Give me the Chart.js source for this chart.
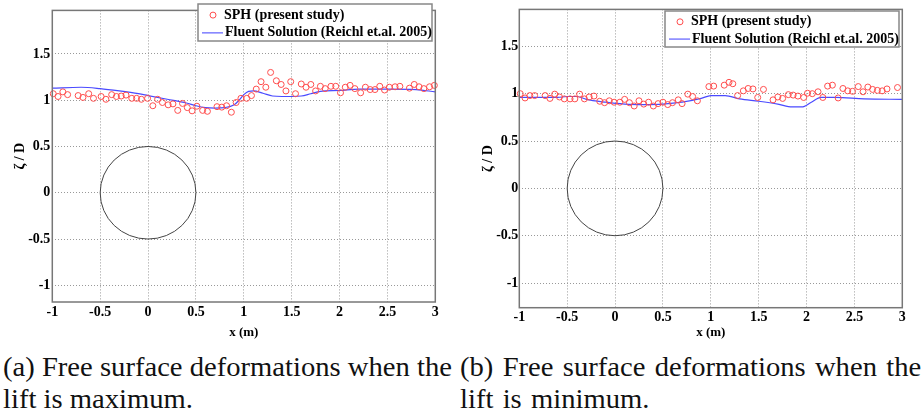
<!DOCTYPE html>
<html>
<head>
<meta charset="utf-8">
<script src="https://cdn.jsdelivr.net/npm/chart.js@4.4.1/dist/chart.umd.min.js"></script>
<style>
body { margin: 0; background: #fff; width: 922px; height: 419px; position: relative; overflow: hidden; }
canvas { position: absolute; top: 0; }
#chartA { left: 0; }
#chartB { left: 460px; }
.cap { position: absolute; top: 351px; font-family: "Liberation Serif", "Times New Roman", serif; font-size: 27px; line-height: 32px; color: #111; white-space: nowrap; transform-origin: 0 0; transform: scaleX(1.06); }
</style>
</head>
<body>
<canvas id="chartA" width="460" height="340"></canvas>
<canvas id="chartB" width="462" height="340"></canvas>
<div class="cap" style="left:3px;">(a) Free surface deformations when the<br>lift is maximum.</div>
<div class="cap" style="left:460px; word-spacing: 2px;">(b) Free surface deformations when the<br>lift is minimum.</div>
<script>
var xTicks = [-1, -0.5, 0, 0.5, 1, 1.5, 2, 2.5, 3];
var yTicks = [-1, -0.5, 0, 0.5, 1, 1.5];
var sphLabel = "SPH (present study)";
var fluentLabel = "Fluent Solution (Reichl et.al. 2005)";

// (a) lift maximum
var sphXA = [-0.99,-0.94,-0.89,-0.84,-0.73,-0.68,-0.62,-0.57,-0.49,-0.44,-0.38,-0.33,-0.28,-0.23,-0.17,-0.12,-0.07,-0.005,0.05,0.10,0.15,0.21,0.26,0.31,0.36,0.41,0.46,0.51,0.57,0.62,0.72,0.77,0.82,0.87,0.92,0.97,1.03,1.08,1.13,1.18,1.23,1.28,1.34,1.39,1.44,1.49,1.54,1.60,1.65,1.70,1.75,1.80,1.85,1.91,1.96,2.01,2.06,2.11,2.16,2.22,2.27,2.32,2.37,2.42,2.47,2.52,2.58,2.63,2.73,2.78,2.83,2.88,2.94,2.99];
var sphYA = [1.07,1.04,1.09,1.06,1.05,1.03,1.07,1.02,1.04,1.01,1.06,1.04,1.045,1.055,1.02,1.02,1.01,1.02,0.94,1.01,0.975,0.95,0.96,0.89,0.965,0.92,0.885,0.935,0.89,0.88,0.93,0.925,0.94,0.87,0.975,1.02,1.02,1.05,1.12,1.20,1.14,1.30,1.21,1.17,1.10,1.20,1.07,1.175,1.14,1.17,1.10,1.15,1.125,1.15,1.15,1.08,1.14,1.16,1.125,1.08,1.14,1.115,1.115,1.15,1.11,1.14,1.145,1.15,1.13,1.17,1.145,1.125,1.145,1.16];
var fluentXA = [-1,-0.7,-0.5,-0.3,-0.1,0,0.2,0.4,0.5,0.6,0.7,0.8,0.9,0.95,1.0,1.05,1.1,1.2,1.3,1.4,1.5,1.6,1.7,1.8,2.0,2.2,2.5,2.8,3.0];
var fluentYA = [1.13,1.14,1.125,1.10,1.07,1.05,1.01,0.97,0.94,0.92,0.915,0.92,0.95,1.0,1.06,1.095,1.10,1.075,1.045,1.04,1.04,1.045,1.07,1.095,1.105,1.12,1.12,1.115,1.09];

// (b) lift minimum
var sphXB = [-0.99,-0.94,-0.89,-0.84,-0.73,-0.68,-0.63,-0.58,-0.53,-0.47,-0.42,-0.37,-0.32,-0.27,-0.22,-0.16,-0.11,-0.06,-0.01,0.05,0.10,0.15,0.20,0.25,0.30,0.35,0.40,0.45,0.50,0.55,0.60,0.66,0.70,0.76,0.81,0.86,0.98,1.03,1.14,1.19,1.23,1.28,1.34,1.39,1.44,1.49,1.55,1.65,1.70,1.75,1.81,1.86,1.91,1.97,2.01,2.06,2.12,2.17,2.22,2.27,2.33,2.38,2.43,2.48,2.54,2.59,2.64,2.69,2.74,2.79,2.84,2.95];
var sphYB = [1.00,0.955,0.98,0.98,0.98,0.95,0.995,0.965,0.945,0.945,0.945,0.995,0.945,0.965,0.975,0.92,0.905,0.925,0.91,0.91,0.94,0.905,0.87,0.925,0.89,0.91,0.87,0.895,0.91,0.885,0.905,0.935,0.895,0.995,0.97,0.925,1.075,1.08,1.09,1.12,1.105,0.98,1.03,1.055,1.05,0.96,1.045,0.935,0.965,0.95,0.99,0.985,0.975,0.96,1.005,1.00,1.02,0.96,1.08,1.09,0.955,1.055,1.03,1.025,1.075,1.02,1.07,1.045,1.035,1.03,1.05,1.065];
var fluentXB = [-1,-0.6,-0.5,-0.4,-0.3,-0.1,0.1,0.3,0.5,0.7,0.9,1.0,1.15,1.3,1.5,1.7,1.85,1.95,2.05,2.15,2.3,2.6,3.0];
var fluentYB = [0.96,0.96,0.97,0.97,0.94,0.91,0.89,0.885,0.89,0.91,0.95,0.98,0.98,0.945,0.92,0.89,0.86,0.86,0.91,0.96,0.96,0.945,0.94];

// cylinder outline
var cylX = 0, cylY = 0, cylR = 0.5;

var serif = '"Liberation Serif", "Times New Roman", serif';

function toPoints(xs, ys) {
    var pts = [];
    for (var i = 0; i < xs.length; i++) pts.push({x: xs[i], y: ys[i]});
    return pts;
}

var framePlugin = {
    id: 'frame',
    beforeDatasetsDraw: function (chart) {
        var ctx = chart.ctx, xs = chart.scales.x, ys = chart.scales.y;
        var cx = xs.getPixelForValue(cylX), cy = ys.getPixelForValue(cylY);
        var rx = xs.getPixelForValue(cylX + cylR) - cx;
        var ry = cy - ys.getPixelForValue(cylY + cylR);
        ctx.save();
        ctx.strokeStyle = '#444';
        ctx.lineWidth = 1;
        ctx.beginPath();
        ctx.ellipse(cx, cy, rx, ry, 0, 0, Math.PI * 2);
        ctx.stroke();
        ctx.restore();
    },
    afterDraw: function (chart, args, opts) {
        var ctx = chart.ctx, a = chart.chartArea;
        ctx.save();
        ctx.strokeStyle = '#777';
        ctx.lineWidth = 1.5;
        ctx.strokeRect(a.left, a.top, a.right - a.left, a.bottom - a.top);

        // y title
        ctx.save();
        ctx.translate(opts.yTitleX, (a.top + a.bottom) / 2);
        ctx.rotate(-Math.PI / 2);
        ctx.fillStyle = '#000';
        ctx.font = 'bold 14px ' + serif;
        ctx.textAlign = 'center';
        ctx.textBaseline = 'middle';
        ctx.fillText('ζ / D', 0, 0);
        ctx.restore();

        // legend box
        var b = opts.box;
        ctx.fillStyle = '#fff';
        ctx.fillRect(b.left, b.top, b.width, b.height);
        ctx.strokeStyle = '#888';
        ctx.lineWidth = 1.5;
        ctx.strokeRect(b.left, b.top, b.width, b.height);

        var y1 = b.top + b.height * 0.3, y2 = b.top + b.height * 0.78;
        ctx.strokeStyle = '#ff4d4d';
        ctx.lineWidth = 1;
        ctx.beginPath();
        ctx.arc(b.left + 15, y1, 3, 0, Math.PI * 2);
        ctx.stroke();
        ctx.strokeStyle = '#6a6aff';
        ctx.lineWidth = 1.3;
        ctx.beginPath();
        ctx.moveTo(b.left + 4, y2);
        ctx.lineTo(b.left + 25, y2);
        ctx.stroke();

        ctx.fillStyle = '#000';
        ctx.font = 'bold 14px ' + serif;
        ctx.textBaseline = 'middle';
        ctx.textAlign = 'left';
        ctx.fillText(chart.data.datasets[0].label, b.left + 26, y1);
        ctx.fillText(chart.data.datasets[1].label, b.left + 27, y2);
        ctx.restore();
    }
};

function makeChart(id, sx, sy, fx, fy, yMin, yMax, lay) {
    return new Chart(document.getElementById(id), {
        type: 'scatter',
        data: {
            datasets: [{
                label: sphLabel,
                data: toPoints(sx, sy),
                pointRadius: 3,
                pointBorderWidth: 1,
                borderColor: '#ff4d4d',
                backgroundColor: 'rgba(0,0,0,0)',
                pointHoverRadius: 3,
                clip: false
            }, {
                label: fluentLabel,
                data: toPoints(fx, fy),
                showLine: true,
                pointRadius: 0,
                borderColor: '#4a4aff',
                borderWidth: 1.2,
                cubicInterpolationMode: 'monotone',
                fill: false
            }]
        },
        options: {
            responsive: false,
            animation: false,
            devicePixelRatio: 1,
            layout: { padding: { left: 0, right: lay.padRight, top: lay.padTop, bottom: 0 } },
            plugins: {
                legend: { display: false },
                tooltip: { enabled: false },
                frame: { box: lay.legend, yTitleX: lay.yTitleX }
            },
            scales: {
                x: {
                    type: 'linear', min: -1, max: 3,
                    afterBuildTicks: function (s) { s.ticks = xTicks.map(function (v) { return {value: v}; }); },
                    afterFit: function (s) { s.height = lay.xHeight; },
                    grid: { color: '#999', lineWidth: 1, drawTicks: false },
                    border: { display: false, dash: [1, 2] },
                    ticks: {
                        color: '#000', padding: lay.xTickPad, maxRotation: 0, autoSkip: false,
                        font: { family: serif, size: 14, weight: 'bold' },
                        callback: function (v) { return String(v); }
                    },
                    title: { display: true, text: 'x (m)', color: '#000', padding: { top: 0, bottom: 0 },
                        font: { family: serif, size: 13, weight: 'bold' } }
                },
                y: {
                    type: 'linear', min: yMin, max: yMax,
                    afterBuildTicks: function (s) { s.ticks = yTicks.map(function (v) { return {value: v}; }); },
                    afterFit: function (s) { s.width = lay.yWidth; },
                    grid: { color: '#999', lineWidth: 1, drawTicks: false },
                    border: { display: false, dash: [1, 2] },
                    ticks: {
                        color: '#000', padding: lay.yTickPad,
                        font: { family: serif, size: 14, weight: 'bold' },
                        callback: function (v) { return String(v); }
                    },
                    title: { display: false }
                }
            }
        },
        plugins: [framePlugin]
    });
}

makeChart('chartA', sphXA, sphYA, fluentXA, fluentYA, -1.18, 1.97, {
    yWidth: 52.3, xHeight: 38, padRight: 24.7, padTop: 1.3,
    xTickPad: 2, yTickPad: 2, yTitleX: 20,
    legend: { left: 198, top: 4, width: 234, height: 37 }
});
makeChart('chartB', sphXB, sphYB, fluentXB, fluentYB, -1.26, 1.89, {
    yWidth: 59.3, xHeight: 32.3, padRight: 19.7, padTop: 6.7,
    xTickPad: 1, yTickPad: 1, yTitleX: 28.3,
    legend: { left: 205, top: 11, width: 234, height: 36 }
});
</script>
</body>
</html>
